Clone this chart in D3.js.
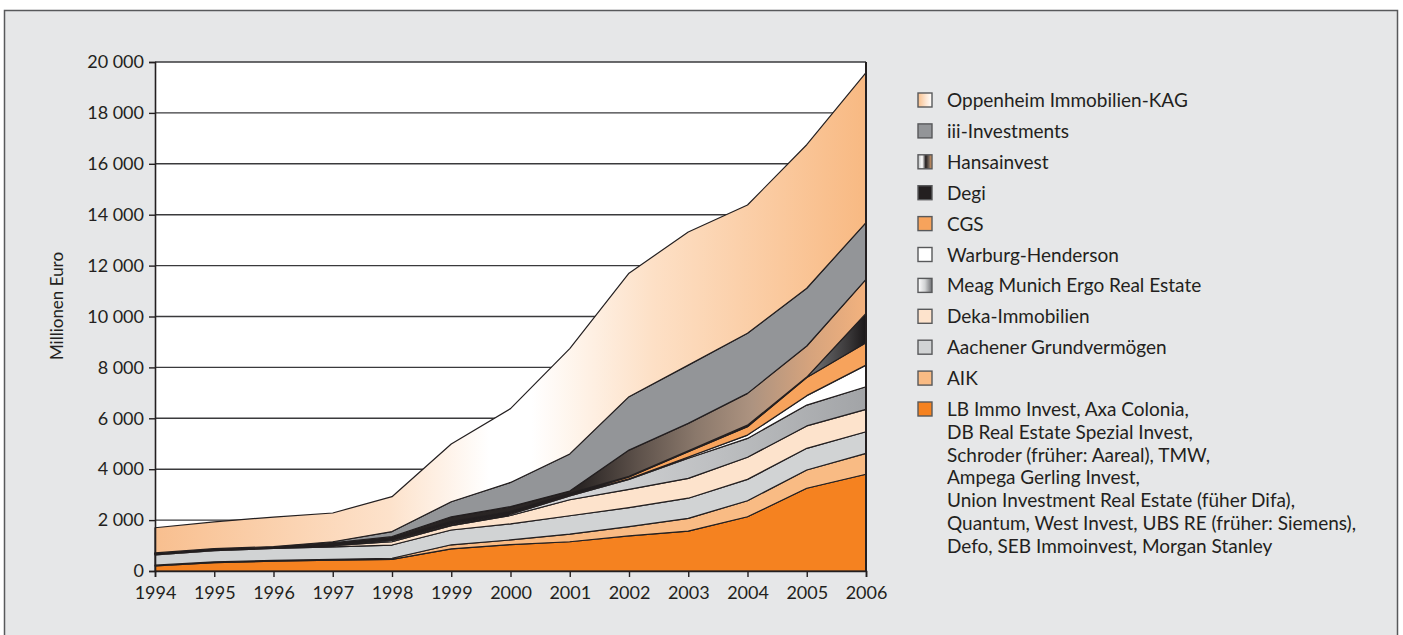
<!DOCTYPE html>
<html>
<head>
<meta charset="utf-8">
<script src="https://cdn.jsdelivr.net/npm/d3@7"></script>
<style>
  html, body { margin: 0; padding: 0; background: #fff; }
  svg { display: block; font-family: Lato, "Open Sans", sans-serif; }
</style>
</head>
<body>
<svg id="chart" width="1403" height="635"></svg>
<script>
// Years on the x axis
const years = [1994, 1995, 1996, 1997, 1998, 1999, 2000, 2001, 2002, 2003, 2004, 2005, 2006];

// Values per fund company (Mio. Euro)
const lbImmo      = [200, 330, 390, 430, 460, 870, 1040, 1150, 1380, 1570, 2130, 3250, 3800];
const aik         = [30, 30, 30, 30, 40, 160, 180, 300, 360, 500, 630, 720, 820];
const aachener    = [400, 440, 470, 490, 520, 580, 630, 720, 750, 790, 840, 850, 850];
const deka        = [30, 30, 20, 50, 130, 170, 330, 630, 720, 780, 870, 880, 880];
const meag        = [10, 10, 10, 30, 50, 50, 50, 150, 390, 790, 740, 820, 890];
const warburg     = [5, 5, 5, 10, 20, 20, 30, 30, 20, 50, 130, 370, 850];
const cgs         = [5, 5, 5, 10, 20, 30, 30, 20, 80, 210, 330, 710, 880];
const degi        = [10, 10, 10, 30, 50, 60, 50, 50, 20, 30, 60, 20, 1150];
const hansainvest = [10, 10, 10, 30, 60, 190, 190, 90, 1030, 1080, 1250, 1220, 1340];
const iii         = [10, 10, 10, 40, 200, 590, 950, 1460, 2100, 2290, 2360, 2270, 2230];
const oppenheim   = [990, 1050, 1160, 1130, 1370, 2270, 2900, 4140, 4850, 5230, 5040, 5640, 5890];

const yTicks = [0, 2000, 4000, 6000, 8000, 10000, 12000, 14000, 16000, 18000, 20000];

// Stack order, bottom to top
const series = [
  { key: 'lb', values: lbImmo, fill: '#f58220',
    label: ['LB Immo Invest, Axa Colonia,', 'DB Real Estate Spezial Invest,', 'Schroder (früher: Aareal), TMW,',
            'Ampega Gerling Invest,', 'Union Investment Real Estate (füher Difa),',
            'Quantum, West Invest, UBS RE (früher: Siemens),', 'Defo, SEB Immoinvest, Morgan Stanley'] },
  { key: 'aik', values: aik, fill: '#f9bb84', label: ['AIK'] },
  { key: 'aachener', values: aachener, fill: '#d1d3d4', label: ['Aachener Grundvermögen'] },
  { key: 'deka', values: deka, fill: '#fde3cc', label: ['Deka-Immobilien'] },
  { key: 'meag', values: meag, fill: 'url(#gMeag)', swatch: 'url(#sMeag)', label: ['Meag Munich Ergo Real Estate'] },
  { key: 'warburg', values: warburg, fill: '#ffffff', label: ['Warburg-Henderson'] },
  { key: 'cgs', values: cgs, fill: '#f7a35c', label: ['CGS'] },
  { key: 'degi', values: degi, fill: 'url(#gDegi)', swatch: '#231f20', label: ['Degi'] },
  { key: 'hansa', values: hansainvest, fill: 'url(#gHansa)', swatch: 'url(#sHansa)', label: ['Hansainvest'] },
  { key: 'iii', values: iii, fill: '#939598', label: ['iii-Investments'] },
  { key: 'oppenheim', values: oppenheim, fill: 'url(#gOpp)', swatch: 'url(#sOpp)', label: ['Oppenheim Immobilien-KAG'] }
];

const DARK = '#231f20';
const svg = d3.select('#chart');

// Outer grey panel
svg.append('rect')
  .attr('x', 4.5).attr('y', 10.5)
  .attr('width', 1393).attr('height', 660)
  .attr('fill', '#e6e7e8')
  .attr('stroke', '#58595b')
  .attr('stroke-width', 1.5);

const x = d3.scaleLinear().domain([1994, 2006]).range([155, 866]);
const y = d3.scaleLinear().domain([0, 20000]).range([571, 62]);

// Gradients
const defs = svg.append('defs');
function gradient(id, stops, user) {
  const g = defs.append('linearGradient').attr('id', id)
    .attr('x1', user ? x(1994) : 0).attr('x2', user ? x(2006) : 1)
    .attr('y1', 0).attr('y2', 0);
  if (user) g.attr('gradientUnits', 'userSpaceOnUse');
  stops.forEach(([o, c]) => g.append('stop').attr('offset', o).attr('stop-color', c));
}
gradient('gOpp', [[0, '#f8bf8f'], [0.33, '#fde2cb'], [0.47, '#ffffff'], [0.53, '#ffffff'],
                  [0.7, '#fde0c6'], [1, '#f8b982']], true);
gradient('gHansa', [[0, '#231f20'], [0.6, '#2b2625'], [0.68, '#5e524b'], [0.76, '#8a786b'],
                    [0.84, '#ad9380'], [0.92, '#d5a37d'], [1, '#f3b27e']], true);
gradient('gDegi', [[0, '#231f20'], [0.9, '#231f20'], [0.92, '#737477'], [0.975, '#3a3839'], [1, '#1a1718']], true);
gradient('gMeag', [[0, '#e3e4e5'], [0.6, '#d3d4d6'], [0.8, '#bcbec0'], [1, '#a2a4a7']], true);
gradient('sOpp', [[0, '#f9c08c'], [0.6, '#fde8d6'], [1, '#ffffff']]);
gradient('sMeag', [[0, '#ffffff'], [0.5, '#d1d3d4'], [1, '#6d6e71']]);
gradient('sHansa', [[0, '#bcbec0'], [0.3, '#ffffff'], [0.55, '#231f20'], [0.8, '#7a6a5e'], [1, '#f7a35c']]);

// Plot background
svg.append('rect')
  .attr('x', x(1994)).attr('y', y(20000))
  .attr('width', x(2006) - x(1994)).attr('height', y(0) - y(20000))
  .attr('fill', '#fff');

// Gridlines
svg.append('g')
  .selectAll('line')
  .data(yTicks.filter(d => d > 0))
  .join('line')
  .attr('x1', x(1994)).attr('x2', x(2006))
  .attr('y1', d => y(d)).attr('y2', d => y(d))
  .attr('stroke', '#3a3a3c')
  .attr('stroke-width', 1.4);

// Stacked areas
const rows = years.map((yr, i) => {
  const r = { year: yr };
  series.forEach(s => { r[s.key] = s.values[i]; });
  return r;
});
const stacked = d3.stack().keys(series.map(s => s.key))(rows);

const area = d3.area()
  .x(d => x(d.data.year))
  .y0(d => y(d[0]))
  .y1(d => y(d[1]));

svg.append('g')
  .selectAll('path')
  .data(stacked)
  .join('path')
  .attr('d', area)
  .attr('fill', (d, i) => series[i].fill)
  .attr('stroke', DARK)
  .attr('stroke-width', 1.2)
  .attr('stroke-linejoin', 'round');

// Right frame line
svg.append('line')
  .attr('x1', x(2006)).attr('x2', x(2006))
  .attr('y1', y(20000)).attr('y2', y(0))
  .attr('stroke', DARK).attr('stroke-width', 2);

// Axes
const fmt = d3.formatLocale({ decimal: ',', thousands: '\u2009', grouping: [3], currency: ['', ''] }).format(',');
const yAxis = svg.append('g')
  .attr('transform', `translate(${x(1994)},0)`)
  .call(d3.axisLeft(y).tickValues(yTicks).tickSize(6).tickPadding(5)
    .tickFormat(d => fmt(d).replace('\u2009', ' ')));
const xAxis = svg.append('g')
  .attr('transform', `translate(0,${y(0)})`)
  .call(d3.axisBottom(x).tickValues(years).tickSize(6).tickPadding(9).tickFormat(d3.format('d')));

[yAxis, xAxis].forEach(a => {
  a.select('.domain').attr('stroke', DARK).attr('stroke-width', 1.6);
  a.selectAll('.tick line').attr('stroke', DARK).attr('stroke-width', 1.4);
  a.selectAll('.tick text').attr('fill', '#231f20').style('font-size', '18px')
    .style('font-family', 'Lato, "Open Sans", sans-serif');
});

svg.append('text')
  .attr('transform', 'translate(63,306) rotate(-90)')
  .attr('text-anchor', 'middle')
  .attr('fill', '#231f20')
  .style('font-size', '17px')
  .text('Millionen Euro');

// Legend (top to bottom = reverse stack order)
const legend = svg.append('g');
const legendItems = series.slice().reverse();
legendItems.forEach((s, i) => {
  const cy = 100 + i * 30.9;
  legend.append('rect')
    .attr('x', 918).attr('y', cy - 7)
    .attr('width', 14).attr('height', 14)
    .attr('fill', s.swatch || s.fill)
    .attr('stroke', '#58595b')
    .attr('stroke-width', 1.4);
  const t = legend.append('text')
    .attr('x', 947)
    .attr('fill', '#231f20')
    .style('font-size', '19px');
  s.label.forEach((line, j) => {
    t.append('tspan')
      .attr('x', 947)
      .attr('y', cy + 7 + j * 22.8)
      .text(line);
  });
});
</script>
</body>
</html>
